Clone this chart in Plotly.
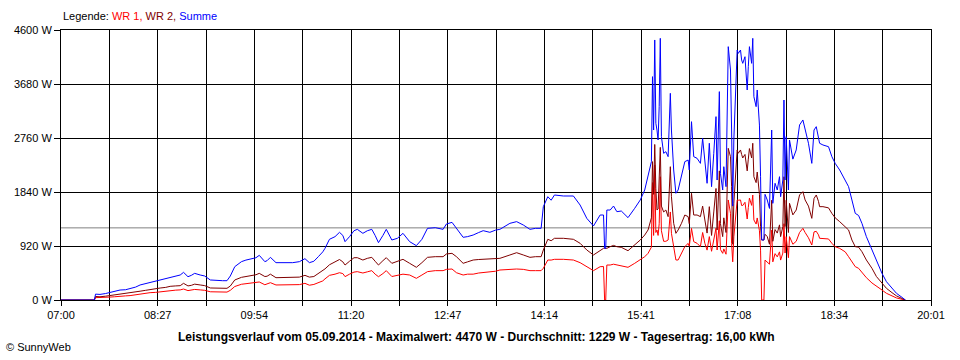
import plotly.graph_objects as go

# ---------------- data ----------------
times = [
    "07:00", "07:30", "07:31", "07:35", "07:40", "07:44", "07:48", "07:53", "07:58", "08:02",
    "08:07", "08:11", "08:16", "08:20", "08:25", "08:29", "08:34", "08:38", "08:43", "08:47",
    "08:50", "08:54", "08:57", "09:00", "09:05", "09:09", "09:14", "09:20", "09:25", "09:29",
    "09:32", "09:36", "09:42", "09:46", "09:51", "09:55", "09:58", "10:03", "10:05", "10:08",
    "10:13", "10:20", "10:28", "10:34", "10:39", "10:43", "10:47", "10:51", "10:55", "10:57",
    "11:01", "11:06", "11:10", "11:13", "11:15", "11:19", "11:23", "11:26", "11:31", "11:35",
    "11:39", "11:42", "11:45", "11:49", "11:52", "11:57", "12:02", "12:07", "12:13", "12:19",
    "12:24", "12:29", "12:36", "12:43", "12:46", "12:51", "12:55", "13:01", "13:05", "13:10",
    "13:15", "13:19", "13:25", "13:30", "13:34", "13:43", "13:49", "13:55", "14:01", "14:06",
    "14:11", "14:13", "14:17", "14:20", "14:23", "14:31", "14:40", "14:46", "14:52", "14:58",
    "15:04", "15:07", "15:08", "15:09", "15:10", "15:13", "15:16", "15:19", "15:23", "15:29",
    "15:35", "15:40", "15:44", "15:47", "15:50", "15:51", "15:52", "15:53", "15:54", "15:55",
    "15:56", "15:57", "15:58", "15:59", "16:01", "16:03", "16:05", "16:07", "16:08", "16:10",
    "16:12", "16:14", "16:17", "16:20", "16:23", "16:24", "16:26", "16:28", "16:31", "16:34",
    "16:36", "16:38", "16:40", "16:42", "16:44", "16:46", "16:48", "16:49", "16:51", "16:52",
    "16:54", "16:55", "16:57", "16:59", "17:01", "17:02", "17:03", "17:04", "17:06", "17:07",
    "17:08", "17:10", "17:11", "17:12", "17:14", "17:16", "17:17", "17:18", "17:20", "17:21",
    "17:22", "17:24", "17:25", "17:27", "17:28", "17:29", "17:30", "17:31", "17:32", "17:34",
    "17:36", "17:38", "17:39", "17:41", "17:43", "17:45", "17:46", "17:48", "17:49", "17:50",
    "17:51", "17:53", "17:54", "17:57", "18:00", "18:03", "18:06", "18:08", "18:11", "18:14",
    "18:16", "18:18", "18:20", "18:21", "18:24", "18:29", "18:32", "18:35", "18:39", "18:44",
    "18:47", "18:50", "18:53", "18:56", "18:59", "19:03", "19:08", "19:12", "19:17", "19:21",
    "19:26", "19:30", "19:35", "19:38",
]

summe = [
    0, 0, 100, 95, 110, 125, 140, 170, 175, 190,
    220, 256, 280, 300, 320, 341, 360, 386, 410, 426,
    471, 397, 420, 454, 426, 409, 341, 329, 329, 329,
    409, 568, 653, 680, 699, 720, 761, 653, 670, 727,
    636, 636, 636, 653, 704, 636, 660, 738, 820, 880,
    1034, 1079, 1153, 1100, 994, 1079, 1180, 1204, 1136, 1180,
    1204, 1100, 977, 1100, 1204, 1022, 1051, 1136, 994, 926,
    1034, 1221, 1232, 1204, 1295, 1323, 1221, 1068, 1080, 1107,
    1150, 1181, 1153, 1190, 1204, 1306, 1335, 1278, 1204, 1221,
    1221, 1590, 1760, 1700, 1789, 1772, 1772, 1618, 1391, 1261,
    1448, 1448, 880, 880, 1533, 1533, 1601, 1505, 1516, 1403,
    1562, 1704, 1874, 2101, 2357, 3805, 2896, 4430, 3010, 2896,
    2726, 3300, 4458, 2783, 2499, 2527, 2442, 3521, 2896, 2215,
    1818, 1874, 2101, 2357, 2385, 2215, 3038, 2442, 2414, 2328,
    2754, 2328, 1988, 2670, 1931, 2499, 3124, 2044, 3550, 2158,
    1874, 2271, 1931, 4316, 3919, 2896, 1600, 2726, 3862, 4259,
    4202, 4259, 4089, 4032, 4145, 3578, 3975, 4316, 4032, 4458,
    3464, 3294, 3578, 2980, 2100, 1022, 1022, 1022, 1800, 1704,
    1560, 2896, 1647, 1988, 1874, 2101, 1760, 2044, 3407, 2044,
    2783, 1874, 2726, 2400, 2556, 2982, 3067, 2896, 2670, 2328,
    2896, 2953, 2783, 2670, 2641, 2612, 2442, 2328, 2215, 2044,
    1931, 1704, 1476, 1440, 1306, 1079, 852, 653, 454, 312,
    199, 114, 45, 0,
]

wr2 = [
    0, 0, 60, 55, 65, 75, 85, 100, 105, 115,
    130, 150, 165, 180, 190, 204, 215, 233, 240, 244,
    284, 240, 250, 270, 256, 245, 205, 199, 199, 199,
    238, 341, 386, 400, 409, 430, 454, 400, 405, 440,
    380, 385, 383, 390, 420, 390, 400, 450, 500, 530,
    600, 650, 690, 650, 596, 660, 720, 721, 681, 710,
    727, 660, 596, 670, 721, 625, 653, 693, 625, 557,
    636, 727, 738, 738, 784, 795, 738, 625, 650, 681,
    690, 693, 693, 700, 710, 767, 806, 767, 727, 738,
    738, 852, 1034, 1010, 1051, 1051, 1034, 966, 852, 767,
    852, 880, 880, 880, 880, 908, 930, 908, 897, 840,
    937, 1022, 1107, 1193, 1400, 2357, 1800, 2650, 1900, 1533,
    1550, 2000, 2600, 1600, 1500, 1533, 1420, 2271, 1760, 1306,
    1136, 1193, 1306, 1448, 1420, 1300, 1818, 1448, 1448, 1420,
    1600, 1363, 1140, 1590, 1100, 1500, 1900, 1192, 2200, 1300,
    1080, 1400, 1150, 2584, 2442, 1931, 950, 1650, 2300, 2556,
    2500, 2556, 2480, 2420, 2480, 2200, 2400, 2580, 2420, 2670,
    2100, 2000, 2180, 1800, 1250, 1022, 1022, 1022, 1120, 1080,
    950, 1700, 1000, 1200, 1140, 1280, 1080, 1250, 2100, 1250,
    1700, 1150, 1647, 1450, 1533, 1789, 1846, 1704, 1600, 1391,
    1730, 1789, 1680, 1590, 1590, 1570, 1476, 1400, 1335, 1250,
    1193, 1022, 908, 900, 823, 681, 540, 400, 280, 199,
    125, 70, 25, 0,
]

wr1 = [
    0, 0, 40, 40, 45, 50, 55, 68, 70, 75,
    90, 105, 115, 125, 130, 140, 150, 160, 168, 172,
    187, 160, 170, 180, 172, 165, 140, 135, 135, 135,
    165, 230, 268, 280, 290, 295, 307, 260, 270, 295,
    256, 255, 255, 262, 284, 252, 265, 293, 325, 360,
    420, 440, 465, 450, 398, 440, 475, 483, 460, 480,
    500, 440, 397, 450, 500, 400, 426, 440, 426, 369,
    426, 483, 500, 500, 522, 528, 465, 426, 440, 440,
    460, 465, 477, 490, 511, 522, 528, 522, 500, 500,
    500, 540, 681, 680, 693, 693, 681, 636, 568, 500,
    568, 570, 0, 0, 596, 596, 610, 596, 579, 557,
    625, 681, 738, 795, 900, 2000, 1100, 2300, 1150, 1193,
    1100, 1300, 2100, 1180, 1000, 1000, 1022, 1500, 1136, 909,
    682, 681, 795, 909, 965, 915, 1220, 994, 966, 908,
    1150, 966, 850, 1080, 830, 1000, 1224, 852, 1350, 860,
    795, 870, 780, 1704, 1477, 965, 650, 1076, 1562, 1704,
    1700, 1704, 1610, 1610, 1665, 1380, 1575, 1736, 1612, 1788,
    1364, 1294, 1398, 1180, 850, 0, 0, 0, 680, 650,
    610, 1190, 650, 790, 735, 820, 680, 800, 1300, 800,
    1080, 720, 1080, 950, 1000, 1150, 1221, 1150, 1060, 937,
    1160, 1170, 1110, 1051, 1051, 1040, 966, 908, 880, 820,
    738, 650, 568, 540, 470, 380, 290, 230, 170, 114,
    70, 35, 12, 0,
]

y_ticks = [0, 920, 1840, 2760, 3680, 4600]
y_tick_labels = ["0 W", "920 W", "1840 W", "2760 W", "3680 W", "4600 W"]
x_tick_labels = ["07:00", "08:27", "09:54", "11:20", "12:47", "14:14",
                 "15:41", "17:08", "18:34", "20:01"]
average_w = 1229

# ---------------- helpers ----------------
def to_min(t):
    h, m = t.split(":")
    return int(h) * 60 + int(m)

x_min = [to_min(t) for t in times]
x_start = to_min(x_tick_labels[0])
x_end = to_min(x_tick_labels[-1])
n_div = 2 * (len(x_tick_labels) - 1)
grid_vals = [x_start + i * (x_end - x_start) / n_div for i in range(n_div + 1)]
grid_text = [x_tick_labels[i // 2] if i % 2 == 0 else "" for i in range(n_div + 1)]

FONT = "Liberation Sans, Arial, sans-serif"

fig = go.Figure()
fig.add_trace(go.Scatter(x=x_min, y=wr1, mode="lines", name="WR 1",
                         line=dict(color="#FF0000", width=1)))
fig.add_trace(go.Scatter(x=x_min, y=wr2, mode="lines", name="WR 2",
                         line=dict(color="#800000", width=1)))
fig.add_trace(go.Scatter(x=x_min, y=summe, mode="lines", name="Summe",
                         line=dict(color="#0000FF", width=1)))

fig.add_shape(type="line", xref="x", yref="y", x0=x_start, x1=x_end,
              y0=average_w, y1=average_w, line=dict(color="#808080", width=1),
              layer="below")

fig.update_layout(
    width=960, height=360,
    margin=dict(l=61, r=29, t=30, b=60),
    paper_bgcolor="white", plot_bgcolor="white",
    showlegend=False,
    font=dict(family=FONT, size=11, color="black"),
    xaxis=dict(
        range=[x_start, x_end], tickmode="array", tickvals=grid_vals, ticktext=grid_text,
        showgrid=True, gridcolor="black", gridwidth=1,
        showline=True, linecolor="black", linewidth=1, mirror=True,
        ticks="outside", ticklen=5, tickcolor="black", zeroline=False,
        tickfont=dict(family=FONT, size=11, color="black"),
    ),
    yaxis=dict(
        range=[0, 4600], tickmode="array", tickvals=y_ticks, ticktext=y_tick_labels,
        showgrid=True, gridcolor="black", gridwidth=1,
        showline=True, linecolor="black", linewidth=1, mirror=True,
        ticks="outside", ticklen=6, tickcolor="black", zeroline=False,
        tickfont=dict(family=FONT, size=11, color="black"),
    ),
)

fig.add_annotation(
    xref="paper", yref="paper", x=0, y=1, yshift=6, xanchor="left", yanchor="bottom",
    showarrow=False, font=dict(family=FONT, size=11),
    text='<span style="color:black">Legende: </span><span style="color:#FF0000">WR 1, </span>'
         '<span style="color:#800000">WR 2, </span><span style="color:#0000FF">Summe</span>',
)
fig.add_annotation(
    xref="paper", yref="paper", x=0.478, y=0, yshift=-37, xanchor="center", yanchor="middle",
    showarrow=False, font=dict(family=FONT, size=12, color="black"),
    text="<b>Leistungsverlauf vom 05.09.2014 - Maximalwert: 4470 W - Durchschnitt: 1229 W"
         " - Tagesertrag: 16,00 kWh</b>",
)
fig.add_annotation(
    xref="paper", yref="paper", x=-61 / 870, y=0, xshift=4, yshift=-47, xanchor="left",
    yanchor="middle", showarrow=False, font=dict(family=FONT, size=11, color="black"),
    text="© SunnyWeb",
)

fig.write_html("out.html", config={"displayModeBar": False},
               post_script="document.body.style.margin='0';")
